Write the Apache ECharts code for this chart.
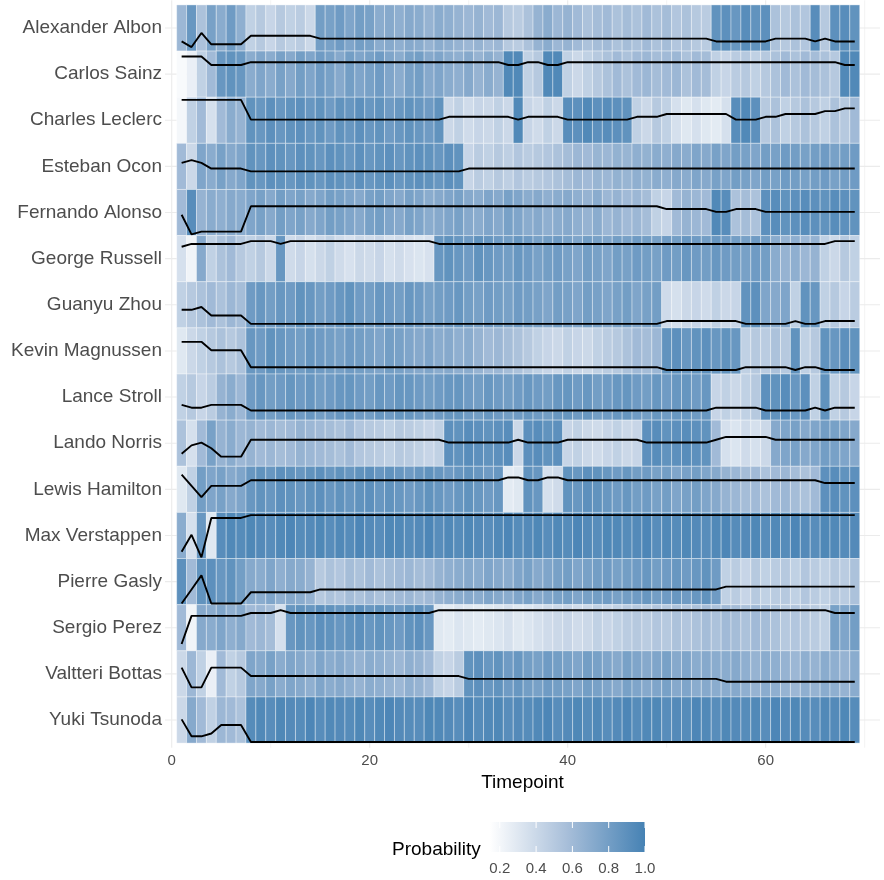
<!DOCTYPE html>
<html><head><meta charset="utf-8">
<script src="https://cdn.jsdelivr.net/npm/echarts@6/dist/echarts.min.js"></script>
<style>html,body{margin:0;padding:0;background:#fff}#c{width:884px;height:880px}</style>
</head><body><div id="c"></div>
<script>
const drivers = ["Alexander Albon","Carlos Sainz","Charles Leclerc","Esteban Ocon","Fernando Alonso","George Russell","Guanyu Zhou","Kevin Magnussen","Lance Stroll","Lando Norris","Lewis Hamilton","Max Verstappen","Pierre Gasly","Sergio Perez","Valtteri Bottas","Yuki Tsunoda"];
const timepoints = [1,2,3,4,5,6,7,8,9,10,11,12,13,14,15,16,17,18,19,20,21,22,23,24,25,26,27,28,29,30,31,32,33,34,35,36,37,38,39,40,41,42,43,44,45,46,47,48,49,50,51,52,53,54,55,56,57,58,59,60,61,62,63,64,65,66,67,68,69];
const xTickLabels = [0,20,40,60];
const legendTicks = [0.2,0.4,0.6,0.8,1.0];
const probMin = 0.146, probMax = 1.0;

// Probability per timepoint
const probAlbon = [.62,.85,.55,.78,.70,.82,.68,.45,.50,.42,.50,.45,.48,.40,.80,.78,.82,.75,.80,.78,.70,.72,.68,.72,.70,.65,.70,.68,.65,.62,.65,.60,.62,.50,.48,.55,.65,.70,.62,.65,.60,.55,.58,.60,.55,.58,.55,.60,.55,.58,.52,.55,.50,.48,.88,.90,.85,.92,.88,.90,.55,.50,.55,.52,.92,.50,.90,.92,.88];
const probSainz = [.18,.25,.45,.60,.85,.88,.85,.70,.75,.70,.78,.72,.80,.75,.82,.78,.72,.80,.75,.78,.82,.75,.70,.78,.80,.72,.75,.70,.68,.72,.65,.70,.65,.95,.95,.45,.50,.95,.95,.45,.40,.45,.50,.55,.60,.55,.60,.62,.58,.60,.62,.55,.60,.58,.45,.42,.48,.50,.45,.50,.55,.60,.55,.60,.58,.55,.50,.95,.95];
const probLeclerc = [.20,.45,.60,.35,.60,.70,.65,.88,.85,.90,.85,.88,.90,.85,.88,.82,.88,.85,.90,.85,.88,.82,.85,.88,.85,.82,.88,.40,.45,.38,.42,.40,.45,.40,.95,.42,.38,.45,.40,.92,.90,.95,.90,.92,.90,.88,.45,.40,.50,.45,.35,.30,.35,.30,.28,.35,.92,.95,.90,.50,.55,.45,.50,.55,.50,.45,.55,.50,.60];
const probOcon = [.60,.40,.75,.70,.78,.72,.75,.88,.85,.90,.88,.85,.90,.88,.85,.90,.88,.85,.90,.85,.88,.90,.85,.88,.90,.88,.85,.90,.88,.42,.48,.45,.50,.46,.52,.48,.50,.52,.55,.58,.62,.60,.64,.62,.66,.64,.68,.66,.70,.68,.72,.70,.75,.72,.78,.75,.80,.78,.75,.80,.78,.82,.80,.78,.80,.82,.78,.80,.82];
const probAlonso = [.60,.92,.65,.70,.68,.72,.70,.75,.78,.72,.80,.75,.78,.72,.75,.80,.78,.75,.72,.78,.80,.75,.72,.78,.75,.70,.72,.75,.78,.72,.70,.75,.72,.78,.75,.70,.72,.68,.70,.72,.68,.65,.70,.62,.65,.60,.62,.58,.45,.42,.60,.65,.62,.60,.95,.92,.55,.58,.55,.90,.92,.88,.90,.92,.90,.88,.92,.90,.88];
const probRussell = [.35,.22,.72,.45,.55,.60,.50,.45,.50,.40,.85,.38,.42,.35,.40,.45,.38,.34,.40,.38,.42,.35,.38,.34,.32,.34,.85,.88,.85,.82,.88,.85,.82,.80,.85,.82,.78,.80,.82,.78,.75,.80,.78,.75,.80,.78,.82,.80,.78,.82,.80,.85,.82,.80,.85,.82,.80,.78,.82,.80,.70,.65,.68,.62,.65,.45,.40,.50,.45];
const probZhou = [.45,.50,.55,.60,.55,.62,.58,.82,.85,.80,.85,.82,.88,.85,.80,.82,.85,.88,.82,.80,.85,.82,.80,.85,.82,.78,.80,.82,.85,.80,.78,.82,.80,.78,.82,.80,.78,.75,.80,.78,.75,.80,.78,.75,.78,.80,.75,.78,.80,.38,.35,.40,.42,.38,.45,.40,.42,.88,.90,.75,.72,.75,.45,.88,.85,.45,.50,.42,.48];
const probMagnussen = [.30,.40,.45,.50,.55,.50,.55,.85,.82,.88,.85,.82,.80,.85,.82,.80,.78,.82,.80,.78,.75,.80,.78,.75,.72,.75,.70,.72,.68,.70,.65,.60,.62,.58,.55,.50,.45,.42,.40,.45,.42,.40,.45,.48,.50,.55,.60,.58,.62,.88,.90,.85,.88,.90,.85,.88,.85,.45,.50,.48,.55,.50,.88,.45,.50,.88,.85,.90,.88];
const probStroll = [.45,.50,.42,.48,.65,.70,.62,.82,.85,.80,.82,.86,.82,.85,.80,.82,.85,.86,.82,.80,.85,.82,.86,.85,.82,.80,.82,.85,.86,.82,.80,.85,.82,.80,.82,.85,.82,.80,.85,.86,.82,.85,.80,.82,.85,.86,.82,.80,.85,.82,.85,.86,.82,.85,.42,.45,.40,.45,.50,.90,.88,.92,.85,.90,.45,.88,.45,.50,.42];
const probNorris = [.55,.35,.60,.78,.65,.70,.62,.65,.60,.62,.58,.60,.65,.62,.60,.58,.55,.60,.52,.50,.48,.45,.50,.48,.45,.42,.45,.90,.88,.92,.90,.88,.90,.92,.40,.90,.92,.88,.90,.42,.45,.40,.38,.42,.45,.40,.42,.90,.92,.88,.90,.92,.90,.88,.60,.35,.32,.38,.35,.40,.72,.75,.78,.72,.75,.80,.78,.75,.72];
const probHamilton = [.30,.45,.80,.75,.78,.72,.75,.85,.88,.85,.90,.88,.85,.88,.90,.85,.88,.85,.88,.90,.85,.88,.85,.82,.85,.88,.85,.82,.85,.88,.85,.82,.85,.28,.30,.88,.85,.35,.38,.88,.85,.90,.88,.85,.82,.85,.80,.82,.78,.80,.75,.78,.80,.75,.72,.65,.62,.58,.60,.55,.60,.62,.58,.55,.60,.90,.92,.88,.90];
const probVerstappen = [.70,.35,.85,.30,.92,.95,.93,.96,.94,.92,.95,.97,.93,.94,.96,.92,.95,.93,.97,.94,.92,.96,.95,.93,.94,.97,.92,.95,.93,.96,.94,.92,.95,.97,.93,.94,.96,.92,.95,.93,.97,.94,.92,.96,.95,.93,.94,.97,.92,.95,.93,.96,.94,.92,.95,.97,.93,.94,.96,.92,.95,.93,.97,.94,.92,.96,.95,.93,.94];
const probGasly = [.90,.60,.88,.90,.85,.88,.80,.72,.70,.75,.68,.72,.70,.65,.50,.55,.52,.58,.55,.60,.55,.58,.60,.62,.58,.60,.65,.68,.70,.72,.70,.75,.72,.70,.75,.78,.72,.75,.78,.80,.75,.78,.80,.82,.78,.80,.82,.85,.80,.82,.85,.82,.85,.88,.82,.45,.48,.42,.50,.45,.48,.50,.45,.52,.48,.45,.50,.48,.55];
const probPerez = [.60,.22,.72,.70,.75,.68,.72,.60,.62,.58,.35,.85,.88,.85,.90,.88,.85,.88,.90,.85,.88,.85,.82,.88,.90,.85,.30,.28,.32,.30,.28,.30,.32,.35,.30,.32,.35,.38,.40,.42,.38,.40,.45,.42,.45,.48,.50,.48,.52,.50,.55,.52,.55,.58,.55,.60,.58,.55,.60,.58,.55,.50,.52,.50,.48,.45,.78,.75,.80];
const probBottas = [.40,.62,.45,.25,.60,.45,.50,.75,.72,.78,.70,.75,.72,.68,.75,.70,.72,.68,.65,.70,.68,.65,.62,.68,.65,.60,.45,.42,.48,.88,.90,.85,.88,.82,.85,.80,.78,.82,.80,.78,.75,.80,.78,.75,.72,.78,.75,.72,.75,.78,.72,.75,.70,.72,.70,.70,.72,.68,.65,.70,.68,.65,.62,.68,.65,.70,.68,.65,.70];
const probTsunoda = [.40,.72,.60,.45,.62,.60,.55,.93,.95,.92,.96,.94,.93,.97,.92,.95,.94,.93,.96,.92,.95,.97,.94,.93,.92,.96,.95,.94,.92,.97,.93,.95,.96,.92,.94,.93,.95,.97,.92,.94,.96,.93,.95,.92,.94,.97,.93,.95,.96,.92,.94,.93,.97,.95,.92,.96,.94,.93,.95,.92,.97,.94,.96,.93,.92,.95,.94,.96,.93];

// Line values (rank-like level within each row band: 1 = top, 16 = bottom)
const posAlbon = [13,15,10,14,14,14,14,11,11,11,11,11,11,11,12,12,12,12,12,12,12,12,12,12,12,12,12,12,12,12,12,12,12,12,12,12,12,12,12,12,12,12,12,12,12,12,12,12,12,12,12,12,12,12,13,13,13,13,13,13,12,12,12,12,13,12,13,13,13];
const posSainz = [2,2,2,5,5,5,5,4,4,4,4,4,4,4,4,4,4,4,4,4,4,4,4,4,4,4,4,4,4,4,4,4,4,5,5,4,4,5,5,4,4,4,4,4,4,4,4,4,4,4,4,4,4,4,4,4,4,4,4,4,4,4,4,4,4,4,4,5,5];
const posLeclerc = [1,1,1,1,1,1,1,8,8,8,8,8,8,8,8,8,8,8,8,8,8,8,8,8,8,8,8,7,7,7,7,7,7,7,8,7,7,7,7,8,8,8,8,8,8,8,7,7,7,6,6,6,6,6,6,6,8,8,8,7,7,6,6,6,6,5,5,4,4];
const posOcon = [7,6,7,9,9,9,9,10,10,10,10,10,10,10,10,10,10,10,10,10,10,10,10,10,10,10,10,10,10,9,9,9,9,9,9,9,9,9,9,9,9,9,9,9,9,9,9,9,9,9,9,9,9,9,9,9,9,9,9,9,9,9,9,9,9,9,9,9,9];
const posAlonso = [9,16,15,15,15,15,15,6,6,6,6,6,6,6,6,6,6,6,6,6,6,6,6,6,6,6,6,6,6,6,6,6,6,6,6,6,6,6,6,6,6,6,6,6,6,6,6,6,6,7,7,7,7,7,8,8,7,7,7,8,8,8,8,8,8,8,8,8,8];
const posRussell = [4,3,3,3,3,3,3,2,2,2,3,2,2,2,2,2,2,2,2,2,2,2,2,2,2,2,3,3,3,3,3,3,3,3,3,3,3,3,3,3,3,3,3,3,3,3,3,3,3,3,3,3,3,3,3,3,3,3,3,3,3,3,3,3,3,3,2,2,2];
const posZhou = [10,10,9,12,12,12,12,15,15,15,15,15,15,15,15,15,15,15,15,15,15,15,15,15,15,15,15,15,15,15,15,15,15,15,15,15,15,15,15,15,15,15,15,15,15,15,15,15,15,14,14,14,14,14,14,14,14,15,15,15,15,15,14,15,15,14,14,14,14];
const posMagnussen = [5,5,5,8,8,8,8,14,14,14,14,14,14,14,14,14,14,14,14,14,14,14,14,14,14,14,14,14,14,14,14,14,14,14,14,14,14,14,14,14,14,14,14,14,14,14,14,14,14,15,15,15,15,15,15,15,15,14,14,14,14,14,15,14,14,15,15,15,15];
const posStroll = [11,12,12,11,11,11,11,13,13,13,13,13,13,13,13,13,13,13,13,13,13,13,13,13,13,13,13,13,13,13,13,13,13,13,13,13,13,13,13,13,13,13,13,13,13,13,13,13,13,13,13,13,13,13,12,12,12,12,12,13,13,13,13,13,12,13,12,12,12];
const posNorris = [12,9,8,10,13,13,13,7,7,7,7,7,7,7,7,7,7,7,7,7,7,7,7,7,7,7,7,8,8,8,8,8,8,8,7,8,8,8,8,7,7,7,7,7,7,7,7,8,8,8,8,8,8,8,7,6,6,6,6,6,7,7,7,7,7,7,7,7,7];
const posHamilton = [3,7,11,7,7,7,7,5,5,5,5,5,5,5,5,5,5,5,5,5,5,5,5,5,5,5,5,5,5,5,5,5,5,4,4,5,5,4,4,5,5,5,5,5,5,5,5,5,5,5,5,5,5,5,5,5,5,5,5,5,5,5,5,5,5,6,6,6,6];
const posVerstappen = [14,8,16,2,2,2,2,1,1,1,1,1,1,1,1,1,1,1,1,1,1,1,1,1,1,1,1,1,1,1,1,1,1,1,1,1,1,1,1,1,1,1,1,1,1,1,1,1,1,1,1,1,1,1,1,1,1,1,1,1,1,1,1,1,1,1,1,1,1];
const posGasly = [16,11,6,16,16,16,16,12,12,12,12,12,12,12,11,11,11,11,11,11,11,11,11,11,11,11,11,11,11,11,11,11,11,11,11,11,11,11,11,11,11,11,11,11,11,11,11,11,11,11,11,11,11,11,11,10,10,10,10,10,10,10,10,10,10,10,10,10,10];
const posPerez = [14,4,4,4,4,4,4,3,3,3,2,3,3,3,3,3,3,3,3,3,3,3,3,3,3,3,2,2,2,2,2,2,2,2,2,2,2,2,2,2,2,2,2,2,2,2,2,2,2,2,2,2,2,2,2,2,2,2,2,2,2,2,2,2,2,2,3,3,3];
const posBottas = [6,13,13,6,6,6,6,9,9,9,9,9,9,9,9,9,9,9,9,9,9,9,9,9,9,9,9,9,9,10,10,10,10,10,10,10,10,10,10,10,10,10,10,10,10,10,10,10,10,10,10,10,10,10,10,11,11,11,11,11,11,11,11,11,11,11,11,11,11];
const posTsunoda = [8,14,14,13,10,10,10,16,16,16,16,16,16,16,16,16,16,16,16,16,16,16,16,16,16,16,16,16,16,16,16,16,16,16,16,16,16,16,16,16,16,16,16,16,16,16,16,16,16,16,16,16,16,16,16,16,16,16,16,16,16,16,16,16,16,16,16,16,16];

const probRows = [probAlbon,probSainz,probLeclerc,probOcon,probAlonso,probRussell,probZhou,probMagnussen,probStroll,probNorris,probHamilton,probVerstappen,probGasly,probPerez,probBottas,probTsunoda];
const posRows = [posAlbon,posSainz,posLeclerc,posOcon,posAlonso,posRussell,posZhou,posMagnussen,posStroll,posNorris,posHamilton,posVerstappen,posGasly,posPerez,posBottas,posTsunoda];

const FONT = 'Liberation Sans';
const X_MIN = -0.68, X_MAX = 71.55, Y_MIN = -0.6, Y_MAX = 15.6;
const BAND_PAD = 0.0585, LEVEL_STEP = 0.0611;
const rowIdx = drivers.map((d, i) => i);
const gridX = [0, 10, 20, 30, 40, 50, 60, 70];
const colorStops = ['#ffffff', '#a7bed9', '#4682b4'];

const tileData = [];
probRows.forEach((row, r) => row.forEach((v, i) => tileData.push([timepoints[i], r, v])));

const gridData = [];
gridX.forEach(x => gridData.push([x, 0, x % 20 === 0 ? 1 : 0]));
rowIdx.forEach(r => gridData.push([r, 1, 1]));

const lineSeries = drivers.map((d, r) => ({
  type: 'line', name: d, z: 5, silent: true, symbol: 'none', animation: false,
  lineStyle: { color: '#000', width: 1.9 },
  emphasis: { disabled: true },
  data: timepoints.map((t, i) => [t, r - 0.5 + BAND_PAD + (posRows[r][i] - 1) * LEVEL_STEP])
}));

const chart = echarts.init(document.getElementById('c'), null, { renderer: 'canvas' });

const barX0 = 490, barX1 = 645, barY0 = 822, barH = 30;
const legX = v => barX0 + (v - probMin) / (probMax - probMin) * (barX1 - barX0);
const legendGraphics = [
  { type: 'text', left: 392, top: 840, style: { text: 'Probability', font: '19px ' + FONT, fill: '#000' } },
  { type: 'rect', shape: { x: barX0, y: barY0, width: barX1 - barX0, height: barH },
    style: { fill: new echarts.graphic.LinearGradient(0, 0, 1, 0, [
      { offset: 0, color: colorStops[0] }, { offset: 0.5, color: colorStops[1] }, { offset: 1, color: colorStops[2] }]) } }
];
legendTicks.forEach(v => {
  const x = legX(v);
  legendGraphics.push({ type: 'line', shape: { x1: x, y1: barY0, x2: x, y2: barY0 + 6 }, style: { stroke: '#fff', lineWidth: 1 } });
  legendGraphics.push({ type: 'line', shape: { x1: x, y1: barY0 + barH - 6, x2: x, y2: barY0 + barH }, style: { stroke: '#fff', lineWidth: 1 } });
  legendGraphics.push({ type: 'text', x: x, y: 869, style: { text: v.toFixed(1), font: '15px ' + FONT, fill: '#4d4d4d', textAlign: 'center', textVerticalAlign: 'middle' } });
});

chart.setOption({
  animation: false,
  backgroundColor: '#ffffff',
  grid: { left: 165, right: 4, top: 0.3, bottom: 132.3, containLabel: false },
  xAxis: {
    type: 'value', min: X_MIN, max: X_MAX,
    axisLine: { show: false }, axisTick: { show: false }, splitLine: { show: false },
    axisLabel: { customValues: xTickLabels, color: '#4d4d4d', fontSize: 15, fontFamily: FONT, margin: 6 },
    name: 'Timepoint', nameLocation: 'middle', nameGap: 26,
    nameTextStyle: { fontSize: 19, color: '#000', fontFamily: FONT, verticalAlign: 'top' }
  },
  yAxis: {
    type: 'value', inverse: true, min: Y_MIN, max: Y_MAX,
    axisLine: { show: false }, axisTick: { show: false }, splitLine: { show: false },
    axisLabel: { customValues: rowIdx, formatter: v => drivers[Math.round(v)], color: '#4d4d4d', fontSize: 19, fontFamily: FONT, margin: 3 }
  },
  visualMap: { show: false, type: 'continuous', min: probMin, max: probMax, dimension: 2, seriesIndex: 1, inRange: { color: colorStops } },
  graphic: legendGraphics,
  series: [
    {
      type: 'custom', z: 0, silent: true, animation: false,
      data: gridData,
      renderItem: function (params, api) {
        const v = api.value(0), kind = api.value(1), major = api.value(2);
        let p0, p1;
        if (kind === 0) { p0 = api.coord([v, Y_MIN]); p1 = api.coord([v, Y_MAX]); }
        else { p0 = api.coord([X_MIN, v]); p1 = api.coord([X_MAX, v]); }
        return { type: 'line', shape: { x1: p0[0], y1: p0[1], x2: p1[0], y2: p1[1] },
          style: { stroke: '#ebebeb', lineWidth: major ? 1.1 : 0.6 } };
      }
    },
    {
      type: 'custom', z: 2, silent: true, animation: false,
      data: tileData, encode: { x: 0, y: 1 },
      renderItem: function (params, api) {
        const t = api.value(0), r = api.value(1);
        const p0 = api.coord([t - 0.5, r - 0.5]);
        const p1 = api.coord([t + 0.5, r + 0.5]);
        return { type: 'rect',
          shape: { x: Math.min(p0[0], p1[0]), y: Math.min(p0[1], p1[1]), width: Math.abs(p1[0] - p0[0]), height: Math.abs(p1[1] - p0[1]) },
          style: { fill: api.visual('color'), stroke: 'rgba(255,255,255,0.6)', lineWidth: 0.6 } };
      }
    }
  ].concat(lineSeries)
});
</script></body></html>
